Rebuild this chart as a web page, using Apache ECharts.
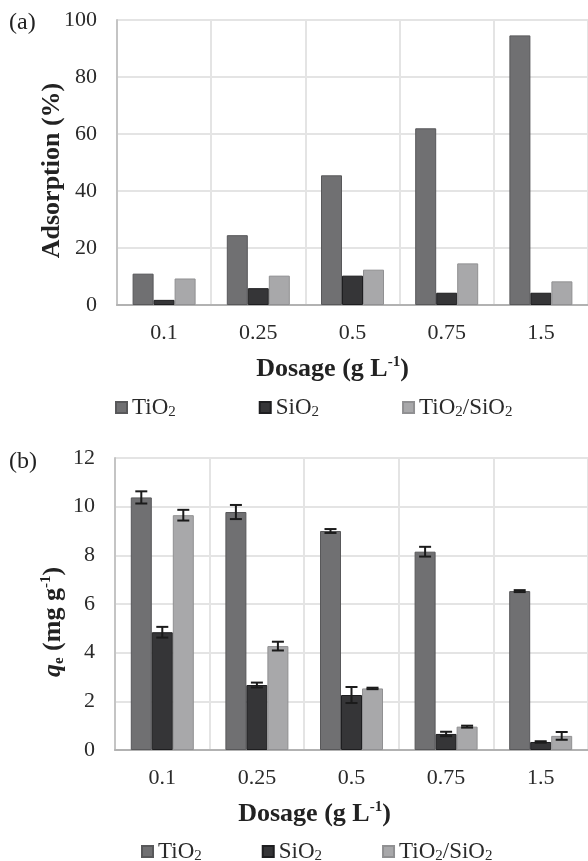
<!DOCTYPE html>
<html>
<head>
	<meta charset="utf-8"/>
	<title>Adsorption / qe bar charts</title>
	<script src="https://cdn.jsdelivr.net/npm/echarts@6.0.0/dist/echarts.min.js"></script>
</head>
<body style="margin: 0; background: #fff;">

	<div id="chart" style="width: 588px; height: 861px;"></div>

	<script>
		// dosage categories (g/L)
		var categories = ['0.1', '0.25', '0.5', '0.75', '1.5'];
		var seriesNames = ['TiO2', 'SiO2', 'TiO2/SiO2'];

		// (a) adsorption %
		var adsTiO2 = [11, 24.5, 45.5, 62, 94.6];
		var adsSiO2 = [1.8, 5.9, 10.3, 4.3, 4.3];
		var adsMix = [9.3, 10.3, 12.4, 14.6, 8.3];

		// (b) qe (mg/g) and error bars
		var qeTiO2 = [10.38, 9.78, 9.0, 8.15, 6.53];
		var qeSiO2 = [4.84, 2.67, 2.26, 0.66, 0.33];
		var qeMix = [9.65, 4.27, 2.53, 0.96, 0.58];
		var errTiO2 = [0.25, 0.29, 0.08, 0.2, 0.04];
		var errSiO2 = [0.22, 0.1, 0.33, 0.09, 0.03];
		var errMix = [0.22, 0.18, 0.03, 0.04, 0.16];

		var colors = ['#707072', '#353537', '#a8a8aa'];
		var borders = ['#58585a', '#1e1e20', '#909092'];
		var BAR_W = 21;
		var FONT = '"Liberation Serif", "DejaVu Serif", serif';

		var oChart = document.getElementById('chart');
		var myChart = echarts.init(oChart);

		// subscript the 2s in the legend names
		function legendName (name) {
			return name.split('/').map(function (p) {
				return '{n|' + p.slice(0, -1) + '}{s|2}';
			}).join('{n|/}');
		}

		function makeBar (name, data, idx, gridIdx) {
			return {
				name: name,
				type: 'bar',
				xAxisIndex: gridIdx,
				yAxisIndex: gridIdx,
				barWidth: BAR_W,
				barGap: '0%',
				itemStyle: {
					color: colors[idx],
					borderColor: borders[idx],
					borderWidth: 1
				},
				data: data
			};
		}

		// error bars drawn next to the bar they belong to
		function makeErr (vals, errs, idx) {
			var data = vals.map(function (v, i) { return [i, v, errs[i]]; });
			return {
				type: 'custom',
				xAxisIndex: 1,
				yAxisIndex: 1,
				z: 10,
				encode: { x: 0, y: 1 },
				renderItem: function (params, api) {
					var c = api.value(0);
					var v = api.value(1);
					var e = api.value(2);
					var x = api.coord([c, v])[0] + (idx - 1) * BAR_W;
					var hi = api.coord([c, v + e])[1];
					var lo = api.coord([c, v - e])[1];
					var st = { stroke: '#1b1b1b', lineWidth: 2 };
					return {
						type: 'group',
						children: [
							{ type: 'line', shape: { x1: x, y1: hi, x2: x, y2: lo }, style: st },
							{ type: 'line', shape: { x1: x - 6, y1: hi, x2: x + 6, y2: hi }, style: st },
							{ type: 'line', shape: { x1: x - 6, y1: lo, x2: x + 6, y2: lo }, style: st }
						]
					};
				},
				data: data
			};
		}

		var nameRich = {
			b: { fontFamily: FONT, fontSize: 26, fontWeight: 'bold', color: '#222', lineHeight: 28 },
			q: { fontFamily: FONT, fontSize: 26, fontWeight: 'bold', fontStyle: 'italic', color: '#222', lineHeight: 28 },
			sup: { fontFamily: FONT, fontSize: 15, fontWeight: 'bold', color: '#222', lineHeight: 16, verticalAlign: 'top' },
			sub: { fontFamily: FONT, fontSize: 15, fontWeight: 'bold', color: '#222', lineHeight: 10, verticalAlign: 'bottom' }
		};

		function xAxisOf (gridIdx, pad) {
			return {
				type: 'category',
				gridIndex: gridIdx,
				data: categories,
				name: '{b|Dosage (g L}{sup|-1}{b|)}',
				nameLocation: 'middle',
				nameGap: 50,
				nameTextStyle: { rich: nameRich, padding: [0, pad, 0, 0] },
				axisTick: { show: false },
				axisLine: { lineStyle: { color: '#b2b2b2', width: 2 } },
				axisLabel: { fontFamily: FONT, fontSize: 22, color: '#2a2a2a', margin: 17 },
				splitLine: { show: true, lineStyle: { color: '#e4e4e4', width: 2 } }
			};
		}

		function yAxisOf (gridIdx, max, interval, name, gap, pad) {
			return {
				type: 'value',
				gridIndex: gridIdx,
				min: 0,
				max: max,
				interval: interval,
				name: name,
				nameLocation: 'middle',
				nameGap: gap,
				nameMoveOverlap: false,
				nameTextStyle: { rich: nameRich, padding: [0, pad, 0, 0] },
				axisLine: { show: true, lineStyle: { color: '#c4c4c4', width: 2 } },
				axisTick: { show: false },
				axisLabel: { fontFamily: FONT, fontSize: 22, color: '#2a2a2a', margin: 20 },
				splitLine: { lineStyle: { color: '#e4e4e4', width: 2 } }
			};
		}

		function legendOf (left, top, gap) {
			return {
				left: left,
				top: top,
				itemWidth: 11,
				itemHeight: 11,
				itemGap: gap,
				icon: 'rect',
				data: seriesNames,
				formatter: legendName,
				textStyle: {
					rich: {
						n: { fontFamily: FONT, fontSize: 23, color: '#2a2a2a', lineHeight: 24 },
						s: { fontFamily: FONT, fontSize: 15, color: '#2a2a2a', lineHeight: 10, verticalAlign: 'bottom' }
					}
				}
			};
		}

		var option = {
			animation: false,
			title: [
				{ text: '(a)', left: 4, top: 6, textStyle: { fontFamily: FONT, fontSize: 24, fontWeight: 'normal', color: '#222' } },
				{ text: '(b)', left: 4, top: 445, textStyle: { fontFamily: FONT, fontSize: 24, fontWeight: 'normal', color: '#222' } }
			],
			legend: [
				legendOf(110, 391, 83),
				legendOf(136, 835, 60)
			],
			grid: [
				{ left: 117, top: 20, width: 473, height: 285 },
				{ left: 115, top: 458, width: 475, height: 292 }
			],
			xAxis: [
				xAxisOf(0, 40),
				xAxisOf(1, 74)
			],
			yAxis: [
				yAxisOf(0, 100, 20, '{b|Adsorption (%)}', 51, 16),
				yAxisOf(1, 12, 2, '{q|q}{sub|e}{b| (mg g}{sup|-1}{b|)}', 48, 36)
			],
			series: [
				makeBar('TiO2', adsTiO2, 0, 0),
				makeBar('SiO2', adsSiO2, 1, 0),
				makeBar('TiO2/SiO2', adsMix, 2, 0),
				makeBar('TiO2', qeTiO2, 0, 1),
				makeBar('SiO2', qeSiO2, 1, 1),
				makeBar('TiO2/SiO2', qeMix, 2, 1),
				makeErr(qeTiO2, errTiO2, 0),
				makeErr(qeSiO2, errSiO2, 1),
				makeErr(qeMix, errMix, 2)
			]
		};

		myChart.setOption(option);
	</script>
</body>
</html>
